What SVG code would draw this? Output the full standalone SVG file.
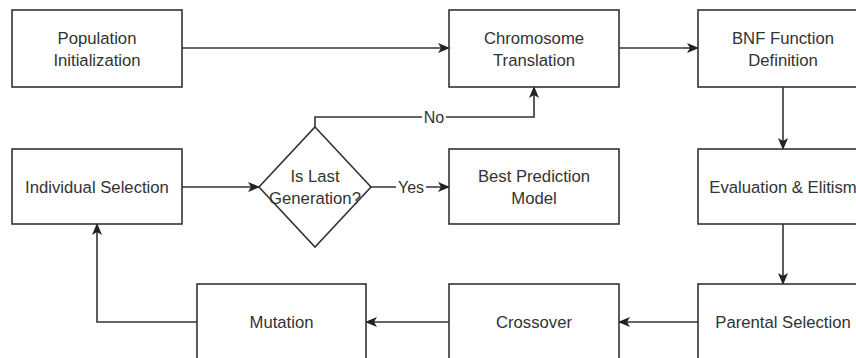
<svg xmlns="http://www.w3.org/2000/svg" width="856" height="358" viewBox="0 0 856 358">
<style>
.box{fill:#fff;stroke:#333;stroke-width:1.6}
.t{font-family:"Liberation Sans",Arial,sans-serif;font-size:16.7px;fill:#333;text-anchor:middle}
.lbl{font-family:"Liberation Sans",Arial,sans-serif;font-size:16px;fill:#333;text-anchor:middle}
.c{fill:none;stroke:#333;stroke-width:1.6}
</style>
<defs>
<marker id="arr" viewBox="0 0 12 10" refX="11" refY="5" markerWidth="12" markerHeight="10" markerUnits="userSpaceOnUse" orient="auto">
<path d="M0,0 L12,5 L0,10 L3,5 z" fill="#222"/>
</marker>
</defs>
<rect width="856" height="358" fill="#fff"/>
<g id="connectors">
<path class="c" d="M182,48 H449" marker-end="url(#arr)"/>
<path class="c" d="M619,48 H698" marker-end="url(#arr)"/>
<path class="c" d="M783,87 V149" marker-end="url(#arr)"/>
<path class="c" d="M783,224 V284" marker-end="url(#arr)"/>
<path class="c" d="M698,322 H619" marker-end="url(#arr)"/>
<path class="c" d="M449,322 H366" marker-end="url(#arr)"/>
<path class="c" d="M197,322 H97 V224" marker-end="url(#arr)"/>
<path class="c" d="M182,187 H259" marker-end="url(#arr)"/>
<path class="c" d="M371,187 H449" marker-end="url(#arr)"/>
<path class="c" d="M315,127 V117 H534 V87" marker-end="url(#arr)"/>
<rect x="422" y="108" width="24" height="18" fill="#fff"/>
<text class="lbl" x="434" y="122.5">No</text>
<rect x="396" y="178" width="30" height="18" fill="#fff"/>
<text class="lbl" x="411" y="192.5">Yes</text>
</g>
<g id="population">
<rect class="box" x="12" y="10" width="170" height="77"/>
<text class="t" x="97" y="44">Population</text>
<text class="t" x="97" y="66">Initialization</text>
</g>
<g id="chromosome">
<rect class="box" x="449" y="10" width="170" height="77"/>
<text class="t" x="534" y="44">Chromosome</text>
<text class="t" x="534" y="66">Translation</text>
</g>
<g id="bnf">
<rect class="box" x="698" y="10" width="170" height="77"/>
<text class="t" x="783" y="44">BNF Function</text>
<text class="t" x="783" y="66">Definition</text>
</g>
<g id="individual">
<rect class="box" x="12" y="149" width="170" height="75"/>
<text class="t" x="97" y="192.5">Individual Selection</text>
</g>
<g id="decision">
<polygon class="box" points="315,127 371,187 315,247 259,187"/>
<text class="t" x="315" y="182">Is Last</text>
<text class="t" x="315" y="204">Generation?</text>
</g>
<g id="best">
<rect class="box" x="449" y="149" width="170" height="75"/>
<text class="t" x="534" y="182">Best Prediction</text>
<text class="t" x="534" y="204">Model</text>
</g>
<g id="evaluation">
<rect class="box" x="698" y="149" width="170" height="75"/>
<text class="t" x="783" y="192.5">Evaluation &amp; Elitism</text>
</g>
<g id="mutation">
<rect class="box" x="197" y="284" width="169" height="77"/>
<text class="t" x="281.5" y="327.5">Mutation</text>
</g>
<g id="crossover">
<rect class="box" x="449" y="284" width="170" height="77"/>
<text class="t" x="534" y="327.5">Crossover</text>
</g>
<g id="parental">
<rect class="box" x="698" y="284" width="170" height="77"/>
<text class="t" x="783" y="327.5">Parental Selection</text>
</g>
</svg>
